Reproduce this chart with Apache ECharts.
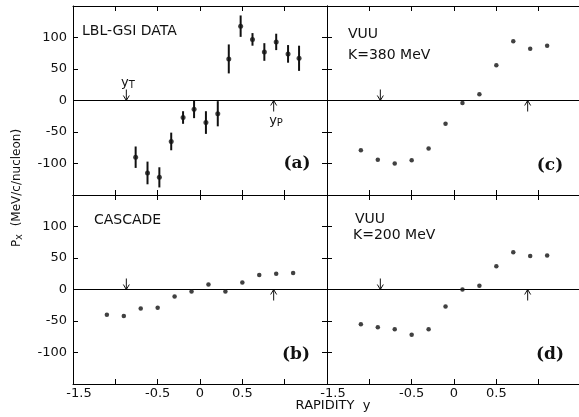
<!DOCTYPE html>
<html><head><meta charset="utf-8">
<script src="https://cdn.jsdelivr.net/npm/echarts@6/dist/echarts.min.js"></script>
<style>html,body{margin:0;padding:0;background:#fff}#c{width:579px;height:417px}</style>
</head><body><div id="c"></div>
<script>
// ---- data ----
// Panel (a): LBL-GSI data with error bars
const dataRapidity = [-0.76, -0.62, -0.48, -0.34, -0.20, -0.07, 0.07, 0.21, 0.34, 0.48, 0.62, 0.76, 0.90, 1.04, 1.17];
const dataPx       = [-90, -115, -122, -65, -27, -14, -35, -21, 66, 118, 97, 77, 93, 74, 67];
const dataErr      = [17, 18, 16, 14, 10, 14, 18, 20, 23, 17, 10, 14, 13, 14, 20];
// Model calculations
const modelRapidity = [-1.1, -0.9, -0.7, -0.5, -0.3, -0.1, 0.1, 0.3, 0.5, 0.7, 0.9, 1.1];
const cascadePx     = [-40, -42, -30, -29, -11, -3, 8, -3, 11, 23, 25, 26];
const vuu380Px      = [-79, -94, -100, -95, -76, -37, -4, 10, 56, 94, 82, 87];
const vuu200Px      = [-55, -60, -63, -72, -63, -27, 0, 6, 37, 59, 53, 54];
// target / projectile rapidity markers
const targetRapidity = -0.87;
const projectileRapidity = 0.87;
// tick labels
const xTickLabels = ['-1.5', '-0.5', '0', '0.5'];
const yTickLabels = ['100', '50', '0', '-50', '-100'];
const panelLetters = ['(a)', '(b)', '(c)', '(d)'];

// ---- layout ----
const FONT = '"DejaVu Sans", sans-serif';
const grids = [
  {left: 73, top: 6, width: 254, height: 189},
  {left: 73, top: 195, width: 254, height: 189},
  {left: 327, top: 6, width: 254, height: 189},
  {left: 327, top: 195, width: 254, height: 189}
];
const showXLabels = [false, true, false, true];
const showYLabels = [true, true, false, false];
const showRightTicks = [true, true, false, false];

const xAxes = [], yAxes = [], series = [];
const tick = {show: true, inside: true, length: 5, lineStyle: {color: '#000', width: 1}};
const noTick = {show: false};
const line = {show: true, onZero: false, lineStyle: {color: '#000', width: 1}};

function fmtX(v) {
  const s = String(Math.round(v * 10) / 10);
  if (!xTickLabels.includes(s)) return '';
  return s === xTickLabels[0] ? '{m|' + s + '}' : s;
}
function fmtY(v) {
  const s = String(Math.round(v));
  return yTickLabels.includes(s) ? s : '';
}

grids.forEach((g, i) => {
  ['bottom', 'top'].forEach((pos, k) => {
    xAxes.push({
      gridIndex: i, type: 'value', position: pos, min: -1.5, max: 1.5, interval: 0.5,
      axisLine: line, axisTick: tick, splitLine: {show: false},
      axisLabel: {show: k === 0 && showXLabels[i], formatter: fmtX, margin: 3,
        color: '#111', fontFamily: FONT, fontSize: 13,
        showMinLabel: true, showMaxLabel: true,
        rich: {m: {color: '#111', fontFamily: FONT, fontSize: 13, padding: [0, 0, 0, 12]}}}
    });
  });
  ['left', 'right'].forEach((pos, k) => {
    yAxes.push({
      gridIndex: i, type: 'value', position: pos, min: -150, max: 150, interval: 50,
      axisLine: line, axisTick: (k === 1 && !showRightTicks[i]) ? noTick : tick, splitLine: {show: false},
      axisLabel: {show: k === 0 && showYLabels[i], formatter: fmtY, margin: 6,
        color: '#111', fontFamily: FONT, fontSize: 13}
    });
  });
});

const panelValues = [
  dataPx.map((v, j) => [dataRapidity[j], v]),
  cascadePx.map((v, j) => [modelRapidity[j], v]),
  vuu380Px.map((v, j) => [modelRapidity[j], v]),
  vuu200Px.map((v, j) => [modelRapidity[j], v])
];

panelValues.forEach((vals, i) => {
  series.push({
    type: 'scatter', xAxisIndex: 2 * i, yAxisIndex: 2 * i, data: vals,
    symbol: 'circle', symbolSize: i === 0 ? 5 : 4.5, itemStyle: {color: '#111'},
    silent: true, z: 5,
    markLine: {silent: true, symbol: 'none', label: {show: false}, animation: false,
      lineStyle: {color: '#000', width: 1, type: 'solid'}, data: [{yAxis: 0}]}
  });
  // rapidity arrows
  series.push({
    type: 'custom', xAxisIndex: 2 * i, yAxisIndex: 2 * i, silent: true, z: 4,
    data: [[targetRapidity, 0, 1], [projectileRapidity, 0, -1]],
    encode: {x: 0, y: 1},
    renderItem: function (params, api) {
      const tip = api.coord([api.value(0), api.value(1)]);
      const dir = api.value(2); // 1: arrow pointing down, -1: pointing up
      const tailY = tip[1] - dir * 11;
      const headY = tip[1] - dir * 5;
      const st = {stroke: '#111', lineWidth: 1, fill: null};
      return {type: 'group', children: [
        {type: 'line', shape: {x1: tip[0], y1: tailY, x2: tip[0], y2: tip[1]}, style: st},
        {type: 'polyline', shape: {points: [[tip[0] - 3, headY], [tip[0], tip[1]], [tip[0] + 3, headY]]}, style: st}
      ]};
    }
  });
});

// error bars for panel (a)
series.push({
  type: 'custom', xAxisIndex: 0, yAxisIndex: 0, silent: true, z: 4,
  data: dataPx.map((v, j) => [dataRapidity[j], v, dataErr[j]]),
  encode: {x: 0, y: 1},
  renderItem: function (params, api) {
    const x = api.value(0), y = api.value(1), e = api.value(2);
    const lo = api.coord([x, y - e]), hi = api.coord([x, y + e]);
    return {type: 'line', shape: {x1: lo[0], y1: lo[1], x2: hi[0], y2: hi[1]},
      style: {stroke: '#111', lineWidth: 2}};
  }
});

function txt(x, y, text, opts) {
  return Object.assign({type: 'text', silent: true, style: Object.assign({
    x: x, y: y, text: text, fill: '#111', font: '14px ' + FONT,
    align: 'left', verticalAlign: 'middle'}, opts || {})});
}
const letterFont = 'bold 17px "DejaVu Serif", serif';
const graphics = [
  txt(82, 31, 'LBL-GSI DATA'),
  txt(94, 220, 'CASCADE'),
  txt(348, 34, 'VUU'),
  txt(348, 55, 'K=380 MeV'),
  txt(355, 219, 'VUU'),
  txt(353, 235, 'K=200 MeV'),
  txt(297, 164, panelLetters[0], {font: letterFont, align: 'center'}),
  txt(296, 355, panelLetters[1], {font: letterFont, align: 'center'}),
  txt(550, 166, panelLetters[2], {font: letterFont, align: 'center'}),
  txt(550, 355, panelLetters[3], {font: letterFont, align: 'center'}),
  {type: 'text', silent: true, style: {x: 128, y: 83, text: '{a|y}{s|T}', align: 'center', verticalAlign: 'middle',
    rich: {a: {fontSize: 13, fontFamily: FONT, fill: '#111'}, s: {fontSize: 10, fontFamily: FONT, fill: '#111', verticalAlign: 'bottom', padding: [5, 0, 0, 0]}}}},
  {type: 'text', silent: true, style: {x: 276, y: 121, text: '{a|y}{s|P}', align: 'center', verticalAlign: 'middle',
    rich: {a: {fontSize: 13, fontFamily: FONT, fill: '#111'}, s: {fontSize: 10, fontFamily: FONT, fill: '#111', verticalAlign: 'bottom', padding: [5, 0, 0, 0]}}}},
  {type: 'text', silent: true, style: {x: 333, y: 406, text: 'RAPIDITY  y', align: 'center', verticalAlign: 'middle',
    font: '13px ' + FONT, fill: '#111'}},
  {type: 'text', silent: true, x: 17, y: 188, rotation: Math.PI / 2,
    style: {x: 0, y: 0, text: '{a|P}{s|x}{a|  (MeV/c/nucleon)}', align: 'center', verticalAlign: 'middle',
      rich: {a: {fontSize: 12, fontFamily: FONT, fill: '#111'}, s: {fontSize: 10, fontFamily: FONT, fill: '#111', verticalAlign: 'bottom', padding: [5, 0, 0, 0]}}}}
];

const chart = echarts.init(document.getElementById('c'), null, {renderer: 'canvas'});
chart.setOption({
  backgroundColor: '#fff',
  animation: false,
  grid: grids.map(g => Object.assign({containLabel: false, outerBoundsMode: 'none'}, g)),
  xAxis: xAxes,
  yAxis: yAxes,
  series: series,
  graphic: graphics
});
</script>
</body></html>
